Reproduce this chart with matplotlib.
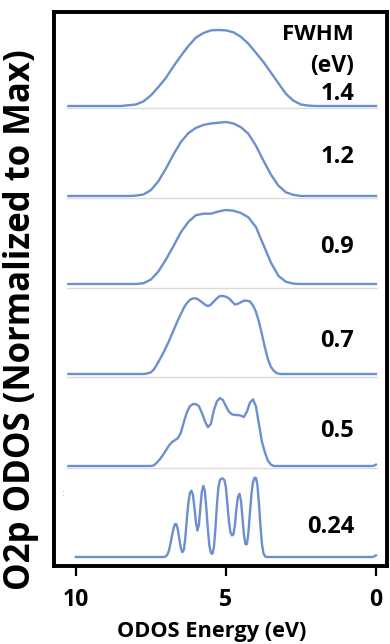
import matplotlib
matplotlib.use("Agg")
import matplotlib.pyplot as plt

# ---------------- data ----------------
fwhm_labels = ["1.4", "1.2", "0.9", "0.7", "0.5", "0.24"]
x_ticks = [10, 5, 0]
x_tick_labels = ["10", "5", "0"]

# FWHM 1.4 eV
e_14 = [10.25, 8.5, 8.25, 8.0, 7.75, 7.5, 7.25, 7.0, 6.75, 6.5, 6.25, 6.0, 5.75, 5.5,
        5.25, 5.0, 4.75, 4.5, 4.25, 4.0, 3.75, 3.5, 3.25, 3.0, 2.75, 2.5, 2.25, 2.0, 0.0]
v_14 = [0, 0, 0.01, 0.02, 0.06, 0.14, 0.25, 0.37, 0.52, 0.66, 0.79, 0.90, 0.96, 0.995,
        1.0, 0.995, 0.97, 0.91, 0.82, 0.70, 0.58, 0.44, 0.30, 0.16, 0.07, 0.02, 0.005, 0, 0]

# FWHM 1.2 eV
e_12 = e_14
v_12 = [0, 0, 0, 0.005, 0.02, 0.08, 0.20, 0.37, 0.56, 0.73, 0.85, 0.92, 0.96, 0.98,
        0.99, 1.0, 0.98, 0.93, 0.84, 0.68, 0.48, 0.29, 0.14, 0.05, 0.015, 0, 0, 0, 0]

# FWHM 0.9 eV
e_09 = e_14
v_09 = [0, 0, 0, 0, 0.01, 0.06, 0.17, 0.33, 0.51, 0.70, 0.84, 0.93, 0.95, 0.95,
        0.98, 1.0, 0.99, 0.96, 0.90, 0.77, 0.53, 0.29, 0.11, 0.03, 0.005, 0, 0, 0, 0]

# FWHM 0.7 eV
e_07 = [10.25, 7.7, 7.6, 7.5, 7.4, 7.3, 7.2, 7.1, 7.0, 6.9, 6.8, 6.7, 6.6, 6.5, 6.4, 6.3,
        6.2, 6.1, 6.0, 5.9, 5.8, 5.7, 5.6, 5.5, 5.4, 5.3, 5.2, 5.1, 5.0, 4.9, 4.8, 4.7,
        4.6, 4.5, 4.4, 4.3, 4.2, 4.1, 4.0, 3.9, 3.8, 3.7, 3.6, 3.5, 3.4, 3.3, 3.2, 0.0]
v_07 = [0, 0, 0.01, 0.02, 0.06, 0.12, 0.19, 0.26, 0.34, 0.42, 0.51, 0.60, 0.69, 0.77,
        0.85, 0.91, 0.95, 0.97, 0.97, 0.95, 0.92, 0.89, 0.87, 0.89, 0.93, 0.97, 1.0, 1.0,
        0.99, 0.97, 0.93, 0.89, 0.90, 0.92, 0.94, 0.94, 0.93, 0.88, 0.80, 0.67, 0.51,
        0.34, 0.19, 0.09, 0.04, 0.01, 0, 0]

# FWHM 0.5 eV
e_05 = [10.25, 7.6, 7.5, 7.4, 7.3, 7.2, 7.1, 7.0, 6.9, 6.8, 6.7, 6.6, 6.5, 6.4, 6.3, 6.2,
        6.1, 6.0, 5.9, 5.8, 5.7, 5.6, 5.5, 5.4, 5.3, 5.2, 5.1, 5.0, 4.9, 4.8, 4.7, 4.6,
        4.5, 4.4, 4.3, 4.2, 4.1, 4.0, 3.9, 3.8, 3.7, 3.6, 3.5, 3.4, 0.1, 0.0]
v_05 = [0, 0, 0, 0.01, 0.05, 0.10, 0.16, 0.23, 0.30, 0.35, 0.38, 0.41, 0.49, 0.65, 0.79,
        0.88, 0.91, 0.91, 0.88, 0.78, 0.66, 0.57, 0.62, 0.82, 0.95, 1.0, 0.97, 0.88, 0.80,
        0.76, 0.75, 0.75, 0.74, 0.72, 0.80, 0.93, 0.98, 0.88, 0.62, 0.36, 0.20, 0.08,
        0.02, 0, 0, 0.02]

# FWHM 0.24 eV
e_024 = [10.0, 7.1, 7.05, 7.0, 6.95, 6.9, 6.85, 6.8, 6.75, 6.7, 6.65, 6.6, 6.55, 6.5,
         6.45, 6.4, 6.35, 6.3, 6.25, 6.2, 6.15, 6.1, 6.05, 6.0, 5.95, 5.9, 5.85, 5.8,
         5.75, 5.7, 5.65, 5.6, 5.55, 5.5, 5.45, 5.4, 5.35, 5.3, 5.25, 5.2, 5.15, 5.1,
         5.05, 5.0, 4.95, 4.9, 4.85, 4.8, 4.75, 4.7, 4.65, 4.6, 4.55, 4.5, 4.45, 4.4,
         4.35, 4.3, 4.25, 4.2, 4.15, 4.1, 4.05, 4.0, 3.95, 3.9, 3.85, 3.8, 3.75, 3.7,
         3.65, 3.6, 0.1, 0.0]
v_024 = [0, 0, 0, 0.01, 0.03, 0.08, 0.16, 0.26, 0.35, 0.41, 0.41, 0.34, 0.22, 0.11,
         0.06, 0.09, 0.25, 0.48, 0.68, 0.80, 0.83, 0.78, 0.62, 0.44, 0.33, 0.40, 0.62,
         0.82, 0.89, 0.82, 0.60, 0.34, 0.14, 0.05, 0.04, 0.12, 0.35, 0.65, 0.87, 0.96,
         0.98, 0.98, 0.96, 0.87, 0.66, 0.45, 0.31, 0.27, 0.28, 0.40, 0.60, 0.75, 0.79,
         0.71, 0.50, 0.28, 0.16, 0.16, 0.30, 0.55, 0.78, 0.93, 0.99, 0.99, 0.90, 0.68,
         0.40, 0.17, 0.05, 0.01, 0, 0, 0, 0.02]

energies = [e_14, e_12, e_09, e_07, e_05, e_024]
values = [v_14, v_12, v_09, v_07, v_05, v_024]

# ---------------- layout (pixels) ----------------
W, H = 390, 644
fig = plt.figure(figsize=(W / 100, H / 100), dpi=100)
FONT = ["Open Sans", "DejaVu Sans"]
LINE = "#6b8fcf"

def fx(px):
    return px / W

def fy(py):
    return 1 - py / H

x_left, x_right = 10.73, -0.37
frame_l, frame_r, frame_t, frame_b = 54, 387, 12, 566

outer = fig.add_axes([fx(frame_l), fy(frame_b), fx(frame_r - frame_l), (frame_b - frame_t) / H])
outer.set_xlim(x_left, x_right)
outer.set_ylim(0, 1)
outer.set_yticks([])
outer.set_xticks(x_ticks)
outer.set_xticklabels(x_tick_labels, fontfamily=FONT, fontweight="bold", fontsize=16.5)
outer.tick_params(axis="x", direction="out", length=7, width=1.6, pad=9)
for s in outer.spines.values():
    s.set_linewidth(2.8)
outer.patch.set_alpha(0)

# panel geometry: (top, bottom, baseline, peak) in px
panels = [(12, 108, 106, 30), (108, 198, 196, 122), (198, 288, 284, 210),
          (288, 377, 374, 296), (377, 468, 466, 398), (468, 566, 557, 477)]

for i, (T, B, b, p) in enumerate(panels):
    ax = fig.add_axes([fx(frame_l), fy(B), fx(frame_r - frame_l), (B - T) / H])
    unit = b - p
    ax.set_xlim(x_left, x_right)
    ax.set_ylim(-(B - b) / unit, 1 + (p - T) / unit)
    ax.plot(energies[i], values[i], color=LINE, lw=1.7, solid_joinstyle="round")
    ax.set_xticks([])
    ax.set_yticks([])
    ax.patch.set_alpha(0)
    for k in ("top", "left", "right"):
        ax.spines[k].set_visible(False)
    if i < 5:
        ax.spines["bottom"].set_color("#dcdcdc")
        ax.spines["bottom"].set_linewidth(1.0)
        ax.spines["bottom"].set_bounds(10.3, -0.03)
    else:
        ax.spines["bottom"].set_visible(False)

# FWHM labels
tx = fx(354)
fig.text(tx, fy(40), "FWHM", ha="right", va="baseline", fontfamily=FONT, fontweight="bold", fontsize=16)
fig.text(tx, fy(72), "(eV)", ha="right", va="baseline", fontfamily=FONT, fontweight="bold", fontsize=16.5)
label_baselines = [100, 163, 253, 347, 437, 533]
for lab, yb in zip(fwhm_labels, label_baselines):
    fig.text(tx, fy(yb), lab, ha="right", va="baseline", fontfamily=FONT, fontweight="bold", fontsize=17)

# small artefact dots
fig.text(fx(63), fy(494), ":", ha="center", va="center", color="#aaaaaa", fontsize=6)

# axis labels
fig.text(fx(212), fy(637), "ODOS Energy (eV)", ha="center", va="baseline",
         fontfamily=FONT, fontweight="bold", fontsize=15.7)
fig.text(fx(21), fy(320), "O2p ODOS (Normalized to Max)", ha="center", va="center",
         rotation=90, fontfamily=FONT, fontweight="bold", fontsize=25)

fig.savefig("out.png", dpi=100)
